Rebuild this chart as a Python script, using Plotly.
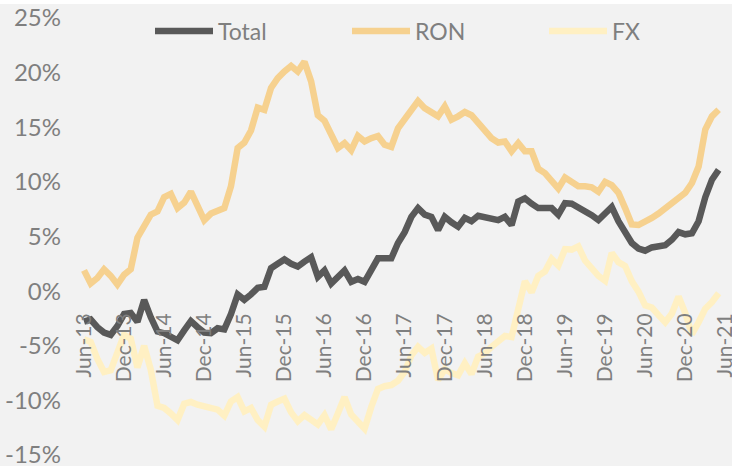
import plotly.graph_objects as go

# ---- data (monthly, Jun-13 .. May-21), % y/y ----
total = [-2.8, -2.6, -3.3, -3.8, -4.0, -3.2, -2.1, -2.0, -2.8, -0.8,
         -2.4, -3.7, -3.85, -4.1, -4.5, -3.6, -2.75, -3.3, -3.8, -3.85,
         -3.4, -3.5, -2.1, -0.3, -0.8, -0.3, 0.3, 0.4, 2.1, 2.5,
         2.9, 2.5, 2.25, 2.7, 3.1, 1.3, 1.9, 0.7, 1.3, 1.9,
         0.85, 1.1, 0.85, 2.0, 3.0, 3.0, 3.0, 4.4, 5.4, 6.8,
         7.6, 7.0, 6.8, 5.6, 6.8, 6.3, 5.9, 6.7, 6.4, 6.9,
         6.8, 6.7, 6.5, 6.8, 6.05, 8.2, 8.5, 8.0, 7.6, 7.6,
         7.6, 7.0, 8.05, 8.0, 7.7, 7.4, 6.95, 6.5, 7.1, 7.7,
         6.4, 5.3, 4.4, 3.9, 3.7, 4.0, 4.1, 4.2, 4.7, 5.4,
         5.2, 5.3, 6.4, 8.6, 10.2, 11.1]

ron = [1.9, 0.7, 1.2, 2.0, 1.4, 0.6, 1.5, 2.0, 4.9, 5.9,
       7.0, 7.3, 8.6, 8.9, 7.6, 8.1, 9.1, 7.8, 6.5, 7.1,
       7.4, 7.6, 9.6, 13.1, 13.6, 14.7, 16.8, 16.6, 18.6, 19.5,
       20.1, 20.6, 20.1, 21.0, 19.2, 16.1, 15.6, 14.5, 13.1, 13.55,
       12.9, 14.2, 13.7, 14.0, 14.2, 13.4, 13.2, 14.9, 15.7, 16.5,
       17.4, 16.75, 16.4, 16.0, 16.9, 15.7, 16.0, 16.4, 16.1, 15.45,
       14.8, 14.0, 13.6, 13.7, 12.8, 13.55, 12.8, 12.8, 11.2, 10.8,
       10.1, 9.4, 10.4, 10.0, 9.6, 9.6, 9.5, 9.1, 10.0, 9.7,
       9.0, 7.6, 6.1, 6.05, 6.3, 6.7, 7.1, 7.6, 8.0, 8.5,
       9.0, 9.9, 11.4, 14.8, 16.0, 16.6]

fx = [-4.4, -4.65, -6.2, -7.4, -7.25, -5.7, -4.0, -4.35, -7.0, -5.0,
      -7.2, -10.5, -10.7, -11.2, -11.8, -10.3, -10.15, -10.4, -10.6, -10.8,
      -10.85, -11.4, -10.1, -9.7, -11.0, -10.7, -11.8, -12.4, -10.4, -10.1,
      -9.85, -11.1, -11.9, -11.35, -11.7, -12.2, -11.35, -12.65, -11.2, -9.7,
      -11.3, -11.9, -12.6, -10.6, -8.95, -8.7, -8.6, -8.2, -7.4, -5.9,
      -5.1, -5.65, -5.25, -8.15, -7.15, -7.5, -7.7, -6.6, -7.6, -6.0,
      -5.7, -5.1, -4.5, -4.1, -4.2, -1.9, 0.9, -0.1, 1.4, 1.8,
      2.95, 2.35, 3.85, 3.8, 4.1, 2.8, 2.0, 1.4, 0.95, 3.5,
      2.65, 2.3, 0.9, -0.05, -1.3, -1.5, -2.2, -2.85, -2.05, -0.5,
      -2.0, -3.95, -2.85, -1.6, -1.0, -0.2]

months = list(range(len(total)))  # 0 = Jun-13
tick_pos = list(range(0, 97, 6))
tick_labels = ["Jun-13", "Dec-13", "Jun-14", "Dec-14", "Jun-15", "Dec-15",
               "Jun-16", "Dec-16", "Jun-17", "Dec-17", "Jun-18", "Dec-18",
               "Jun-19", "Dec-19", "Jun-20", "Dec-20", "Jun-21"]
y_ticks = [-15, -10, -5, 0, 5, 10, 15, 20, 25]
y_labels = [f"{v}%" for v in y_ticks]

series = [("Total", total, "#595959"),
          ("RON", ron, "#F6D18F"),
          ("FX", fx, "#FFF0C3")]

FONT = "Lato"
GREY = "#7F7F7F"
W, H = 732, 466
ML, MR, MT, MB = 81, 6, 18, 11
plot_w = W - ML - MR
plot_h = H - MT - MB

fig = go.Figure()
for name, vals, col in series:
    fig.add_trace(go.Scatter(x=months, y=vals, name=name, mode="lines",
                             line=dict(color=col, width=6.5)))

fig.update_layout(
    width=W, height=H,
    margin=dict(l=ML, r=MR, t=MT, b=MB, pad=0, autoexpand=False),
    paper_bgcolor="#F2F2F2", plot_bgcolor="#F2F2F2",
    font=dict(family=FONT, color=GREY),
    showlegend=True,
    legend=dict(orientation="h", x=(150 - ML) / plot_w, xanchor="left",
                y=1 - (31 - MT) / plot_h, yanchor="middle",
                font=dict(family=FONT, size=23, color=GREY),
                bgcolor="rgba(0,0,0,0)", entrywidth=124, entrywidthmode="pixels",
                itemwidth=58, tracegroupgap=0),
    xaxis=dict(range=[-0.45, 96.1], tickmode="array", tickvals=tick_pos,
               ticktext=tick_labels, tickangle=-90, showgrid=False,
               zeroline=False, showline=False, ticks="",
               anchor="free", position=15 / 40,
               tickfont=dict(family=FONT, size=21, color=GREY),
               ticklabelstandoff=17, ticklabeloverflow="allow",
               automargin=False),
    yaxis=dict(range=[-15, 25], tickmode="array", tickvals=y_ticks,
               ticktext=y_labels, showgrid=False, zeroline=False,
               showline=False, ticks="",
               tickfont=dict(family=FONT, size=24, color=GREY),
               ticklabelstandoff=19, ticklabeloverflow="allow",
               automargin=False),
    shapes=[dict(type="rect", xref="paper", yref="paper",
                 x0=-ML / plot_w - 0.01, x1=1 + MR / plot_w + 0.01,
                 y0=1 + (MT - 4) / plot_h, y1=1 + MT / plot_h + 0.01,
                 fillcolor="white", line=dict(width=0), layer="below")],
)

fig.write_html("out.html", config={"displayModeBar": False},
               post_script="document.body.style.margin='0';")
